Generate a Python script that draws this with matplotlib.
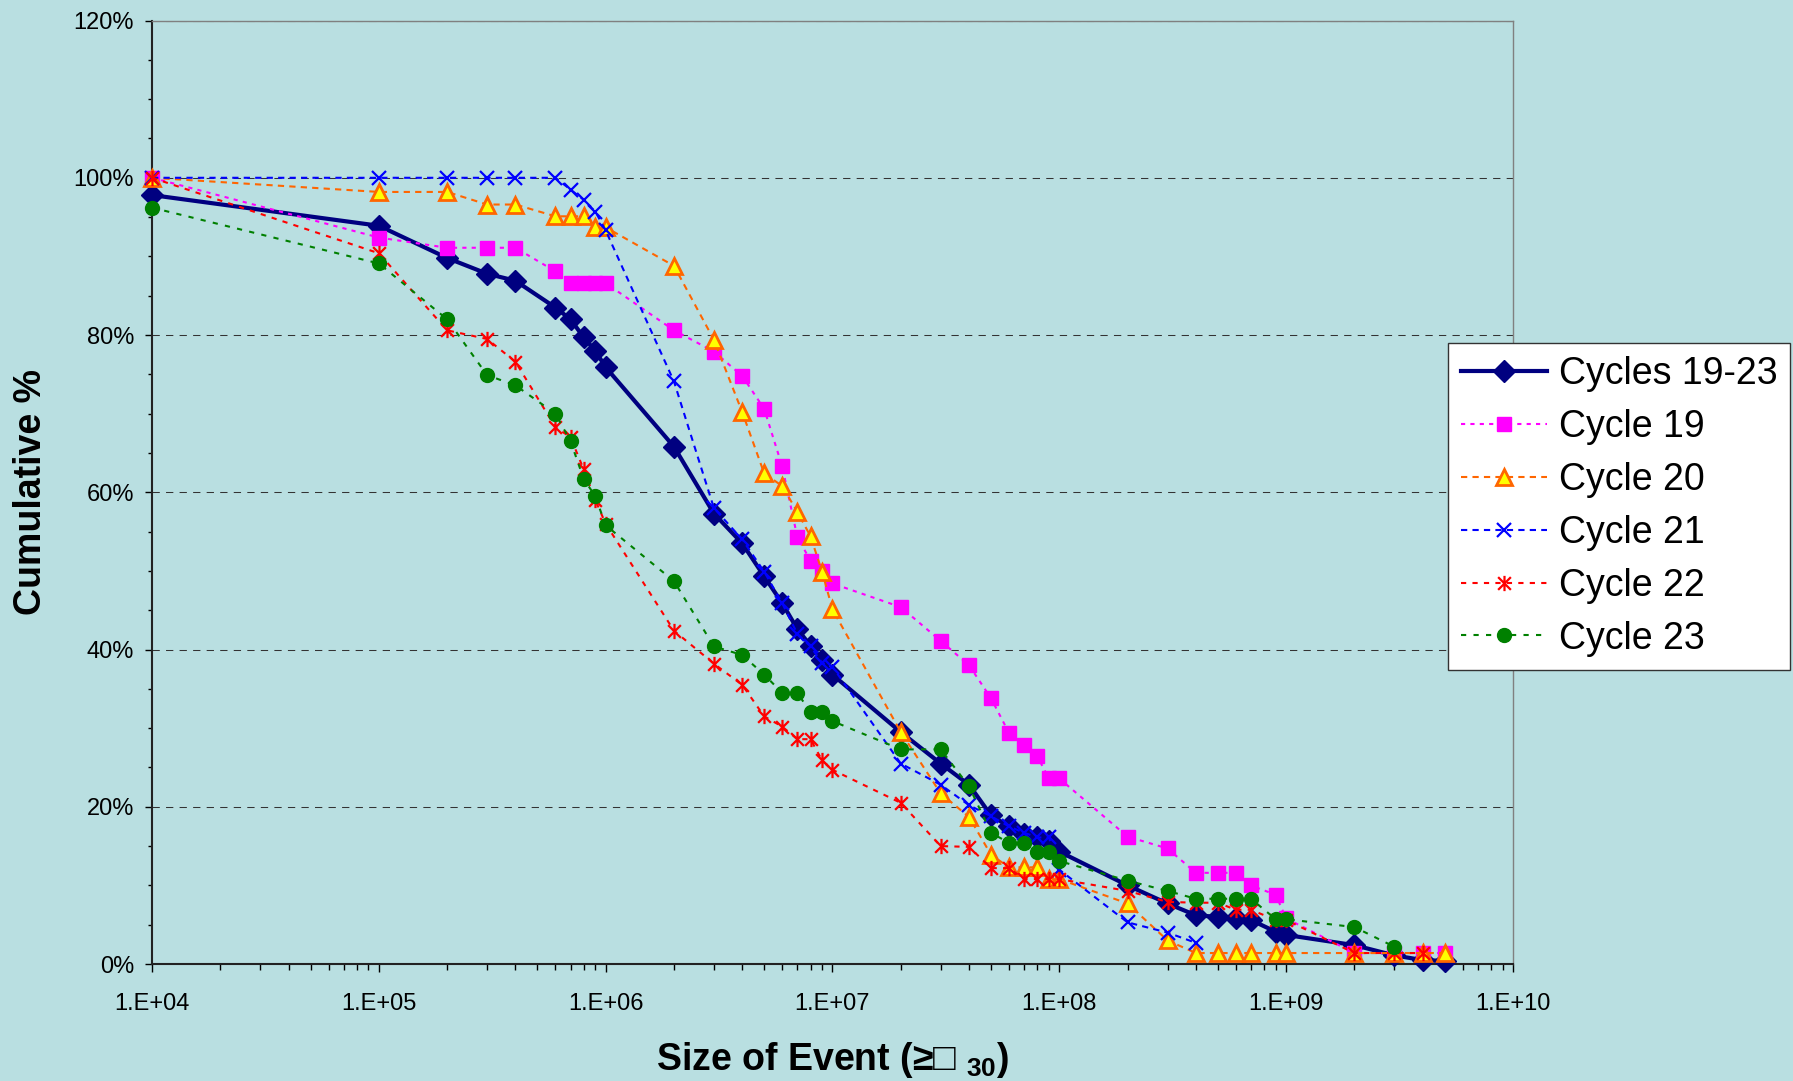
import numpy as np
import matplotlib
matplotlib.use("Agg")
import matplotlib.pyplot as plt
from matplotlib.path import Path
from matplotlib.ticker import FixedLocator, FuncFormatter, NullFormatter

plt.rcParams['font.family'] = ['Liberation Sans', 'DejaVu Sans']
plt.rcParams['mathtext.fontset'] = 'custom'
plt.rcParams['mathtext.rm'] = 'Liberation Sans:bold'
plt.rcParams['mathtext.default'] = 'regular'

# event sizes and cumulative percentages
all_x = [1e4, 1e5, 2e5, 3e5, 4e5, 6e5, 7e5, 8e5, 9e5, 1e6, 2e6, 3e6, 4e6, 5e6, 6e6, 7e6, 8e6, 9e6, 1e7,
         2e7, 3e7, 4e7, 5e7, 6e7, 7e7, 8e7, 9e7, 1e8, 2e8, 3e8, 4e8, 5e8, 6e8, 7e8, 9e8, 1e9, 2e9, 3e9, 4e9, 5e9]
all_y = [97.8, 93.9, 89.8, 87.8, 86.9, 83.5, 82.0, 79.7, 78.0, 75.9, 65.8, 57.3, 53.5, 49.3, 45.9, 42.6, 40.5, 38.7, 36.8,
         29.5, 25.5, 22.8, 18.9, 17.5, 16.6, 16.2, 15.6, 14.3, 10.0, 7.7, 6.2, 6.0, 5.8, 5.6, 4.1, 3.7, 2.4, 1.1, 0.5, 0.4]

c19_x = all_x
c19_y = [100, 92.4, 91.1, 91.1, 91.1, 88.1, 86.6, 86.6, 86.6, 86.6, 80.6, 77.9, 74.8, 70.6, 63.3, 54.3, 51.3, 50.0, 48.4,
         45.4, 41.1, 38.0, 33.8, 29.4, 27.9, 26.4, 23.6, 23.6, 16.2, 14.7, 11.6, 11.6, 11.6, 10.0, 8.8, 5.8, 1.4, 1.4, 1.4, 1.4]

c20_x = all_x
c20_y = [100, 98.2, 98.2, 96.6, 96.6, 95.1, 95.1, 95.1, 93.7, 93.7, 88.8, 79.4, 70.2, 62.4, 60.8, 57.5, 54.4, 49.9, 45.1,
         29.5, 21.7, 18.7, 13.9, 12.3, 12.3, 12.3, 10.8, 10.8, 7.7, 3.0, 1.4, 1.4, 1.4, 1.4, 1.4, 1.4, 1.4, 1.4, 1.4, 1.4]

c21_x = all_x[:31]
c21_y = [100, 100, 100, 100, 100, 100, 98.5, 97.2, 95.7, 93.3, 74.1, 58.0, 54.0, 49.9, 45.9, 42.0, 40.4, 38.3, 37.8,
         25.5, 22.8, 20.2, 18.8, 17.5, 16.7, 16.1, 16.1, 12.0, 5.3, 4.0, 2.7]

c22_x = all_x[:39]
c22_y = [100, 90.4, 80.6, 79.5, 76.6, 68.3, 67.0, 62.9, 59.0, 56.0, 42.4, 38.2, 35.5, 31.5, 30.2, 28.6, 28.6, 25.9, 24.7,
         20.5, 15.0, 14.9, 12.2, 12.2, 10.8, 10.8, 10.8, 10.8, 9.3, 7.9, 7.8, 7.8, 6.9, 6.9, 5.6, 5.6, 1.4, 1.4, 1.4]

c23_x = all_x[:38]
c23_y = [96.2, 89.1, 82.0, 74.9, 73.6, 70.0, 66.5, 61.7, 59.5, 55.8, 48.7, 40.4, 39.3, 36.8, 34.5, 34.5, 32.0, 32.0, 30.9,
         27.3, 27.3, 22.6, 16.7, 15.4, 15.4, 14.2, 14.2, 13.1, 10.6, 9.3, 8.3, 8.3, 8.3, 8.3, 5.7, 5.7, 4.7, 2.2]

labels = ['Cycles 19-23', 'Cycle 19', 'Cycle 20', 'Cycle 21', 'Cycle 22', 'Cycle 23']
x_ticks = [1e4, 1e5, 1e6, 1e7, 1e8, 1e9, 1e10]
y_ticks = [0, 20, 40, 60, 80, 100, 120]

bg = '#B9DFE1'
star = Path([(-1, -1), (1, 1), (-1, 1), (1, -1), (0, -1.2), (0, 1.2)],
            [Path.MOVETO, Path.LINETO, Path.MOVETO, Path.LINETO, Path.MOVETO, Path.LINETO])

fig = plt.figure(figsize=(17.93, 10.81), dpi=100, facecolor=bg)
ax = fig.add_axes([0.0848, 0.1082, 0.7590, 0.8728])
ax.set_facecolor(bg)

ax.plot(all_x, all_y, color='#000080', lw=3, marker='D', ms=11, mfc='#000080', mec='#000080',
        label=labels[0], clip_on=False, zorder=3)
ax.plot(c19_x, c19_y, color='#FF00FF', lw=1.5, ls=(0, (2, 2.5)), marker='s', ms=10, mfc='#FF00FF', mec='#FF00FF',
        label=labels[1], clip_on=False, zorder=4)
ax.plot(c20_x, c20_y, color='#FF6600', lw=1.5, ls=(0, (3, 2.5)), marker='^', ms=11, mfc='#FFFF00', mec='#FF6600',
        mew=2, label=labels[2], clip_on=False, zorder=5)
ax.plot(c21_x, c21_y, color='#0000FF', lw=1.5, ls=(0, (3, 2.5)), marker='x', ms=10, mec='#0000FF',
        mew=1.6, label=labels[3], clip_on=False, zorder=6)
ax.plot(c22_x, c22_y, color='#FF0000', lw=1.5, ls=(0, (2.5, 3)), marker=star, ms=11, mfc='none', mec='#FF0000',
        mew=1.6, label=labels[4], clip_on=False, zorder=7)
ax.plot(c23_x, c23_y, color='#008000', lw=1.5, ls=(0, (2.5, 3.5)), marker='o', ms=10, mfc='#008000', mec='#008000',
        label=labels[5], clip_on=False, zorder=8)

ax.set_xscale('log')
ax.set_xlim(1e4, 1e10)
ax.set_ylim(0, 120)
minor_x = [m * 10.0 ** e for e in range(4, 10) for m in range(2, 10)]
ax.xaxis.set_major_locator(FixedLocator(x_ticks))
ax.xaxis.set_minor_locator(FixedLocator(minor_x))
ax.xaxis.set_major_formatter(FuncFormatter(lambda v, p: '1.E+%02d' % int(round(np.log10(v)))))
ax.xaxis.set_minor_formatter(NullFormatter())
ax.yaxis.set_major_locator(FixedLocator(y_ticks))
ax.yaxis.set_minor_locator(FixedLocator([v for v in range(0, 121, 5) if v % 20]))
ax.yaxis.set_major_formatter(FuncFormatter(lambda v, p: '%d%%' % v))

ax.tick_params(axis='x', which='major', direction='out', length=5.5, width=1, pad=15, labelsize=17)
ax.tick_params(axis='x', which='minor', direction='out', length=4.3, width=1)
ax.tick_params(axis='y', which='major', direction='out', length=5, width=1, pad=8, labelsize=17)
ax.tick_params(axis='y', which='minor', direction='out', length=3, width=1)

ax.set_axisbelow(True)
ax.yaxis.grid(True, which='major', color='#333333', lw=0.75, ls=(0, (7, 6)))
for s in ['left', 'bottom']:
    ax.spines[s].set_color('#222222')
    ax.spines[s].set_linewidth(1.5)
for s in ['top', 'right']:
    ax.spines[s].set_color('#808080')
    ax.spines[s].set_linewidth(1)

fig.text(0.0175, 0.545, 'Cumulative %', rotation=90, ha='center', va='center', fontsize=27, fontweight='bold')
fig.text(0.4643, 0.0102, 'Size of Event (\u2265\u25a1 $_{30}$)', ha='center', va='baseline',
         fontsize=27, fontweight='bold')

leg = fig.legend(loc='upper left', bbox_to_anchor=(0.8076, 0.6827), fontsize=27, frameon=True, fancybox=False,
                 edgecolor='#333333', framealpha=1, facecolor='white', borderpad=0.35, handlelength=2.3,
                 handletextpad=0.3, labelspacing=0.45, borderaxespad=0, numpoints=1)
leg.get_frame().set_linewidth(1)

fig.savefig('out.png', dpi=100, facecolor=bg)
